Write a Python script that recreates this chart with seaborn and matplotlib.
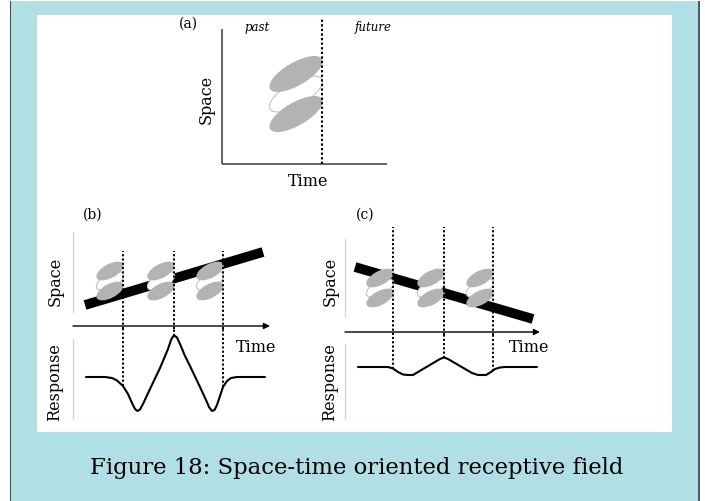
import numpy as np
import pandas as pd
import matplotlib
matplotlib.use("Agg")
import matplotlib.pyplot as plt
from matplotlib.patches import Ellipse, Rectangle
import seaborn as sns

sns.set_theme(style="white")
plt.rcParams["font.family"] = ["DejaVu Serif"]
plt.rcParams["text.color"] = "black"

W, H = 705, 502

# ---------------- data ----------------
# (a) a single space-time oriented receptive field
a_now = 10.0
a_rf_time = 7.4
a_rf_space = [9.0, 7.0, 5.0]          # excitatory / inhibitory / excitatory lobes
a_rf_kind = ["on", "off", "on"]

# (b) bar moving along the preferred orientation
b_bar_time = [1.2, 19.0]
b_bar_space = [2.1, 7.4]
b_probe_time = [5.0, 10.1, 15.0]
b_rf_space = [5.5, 4.5, 3.5]
b_resp_time = [1.3, 3.2, 3.9, 4.4, 5.0, 5.5, 5.9, 6.2, 6.45, 6.7, 7.0, 7.7,
               8.7, 9.5, 9.8, 10.0, 10.2, 10.4, 10.7, 11.2, 11.7, 12.7, 13.3,
               13.6, 13.9, 14.15, 14.4, 14.7, 15.0, 15.4, 15.8, 16.4, 19.2]
b_resp = [0.0, 0.0, -0.1, -0.35, -0.9, -1.7, -2.6, -3.2, -3.4, -3.25, -2.7, -1.2,
          0.9, 2.8, 3.7, 4.05, 4.1, 3.95, 3.3, 2.1, 1.1, -1.0, -2.3,
          -3.0, -3.4, -3.3, -2.8, -1.9, -1.0, -0.4, -0.1, 0.0, 0.0]

# (c) bar moving against the preferred orientation
c_bar_time = [1.0, 18.8]
c_bar_space = [6.5, 1.3]
c_probe_time = [4.8, 9.9, 14.8]
c_rf_space = [5.4, 4.4, 3.4]
c_resp_time = [1.3, 4.3, 4.8, 5.3, 5.8, 6.3, 6.8, 7.3, 9.5, 9.9, 10.3, 12.7,
               13.3, 14.1, 14.6, 15.0, 15.5, 16.0, 19.2]
c_resp = [0.0, 0.0, -0.15, -0.5, -0.75, -0.8, -0.8, -0.5, 0.8, 0.95, 0.8, -0.6,
          -0.8, -0.8, -0.5, -0.2, -0.05, 0.0, 0.0]

caption = "Figure 18: Space-time oriented receptive field"

# ---------------- styles ----------------
GREY_LOBE = "#b3b3b3"
AXIS_DARK = "#3c3c3c"
AXIS_LIGHT = "#d6d6d6"
DOTS = (0, (1.1, 1.1))

fig = plt.figure(figsize=(W / 100, H / 100), dpi=100)
fig.patch.set_facecolor("white")


def fx(x):
    return x / W


def fy(y):
    return 1 - y / H


def rect(x0, y0, x1, y1, color):
    fig.add_artist(Rectangle((fx(x0), fy(y1)), fx(x1) - fx(x0), fy(y0) - fy(y1),
                             transform=fig.transFigure, facecolor=color,
                             edgecolor="none", zorder=0))


# page frame
rect(10, 3, 700, 502, "#b0dfe5")
rect(10, 2, 698, 3.2, "#d9d9d9")
rect(10, 2, 11.3, 502, "#3d4a50")
rect(697.8, 2, 699.6, 502, "#4a5a62")
rect(37, 16, 672, 433, "white")


def canvas(x0, y0, x1, y1, ox, oy):
    """Axes on a pixel box; one data unit = 10 px, origin at (ox, oy)."""
    ax = fig.add_axes([fx(x0), fy(y1), fx(x1) - fx(x0), fy(y0) - fy(y1)])
    ax.set_xlim((x0 - ox) / 10, (x1 - ox) / 10)
    ax.set_ylim((oy - y1) / 10, (oy - y0) / 10)
    ax.axis("off")
    ax.patch.set_alpha(0)
    return ax


def receptive_field(ax, t, spaces, kinds, w, h, ang):
    for s, k in zip(spaces, kinds):
        if k == "off":
            ax.add_patch(Ellipse((t, s), w, h, angle=ang, facecolor="white",
                                 edgecolor="#c4c4c4", lw=0.8, zorder=3))
    for s, k in zip(spaces, kinds):
        if k == "on":
            ax.add_patch(Ellipse((t, s), w, h, angle=ang, facecolor=GREY_LOBE,
                                 edgecolor="none", zorder=4))


# ---------------- panel (a) ----------------
ax = canvas(212, 15, 395, 170, 222, 165)
ax.plot([0, 0], [0, 13.5], color=AXIS_DARK, lw=1.1, solid_capstyle="butt")
ax.plot([0, 16.5], [0, 0], color=AXIS_DARK, lw=1.1, solid_capstyle="butt")
receptive_field(ax, a_rf_time, a_rf_space, a_rf_kind, 6.0, 2.3, 30)
ax.vlines(a_now, 0, 14.5, colors="black", lw=1.5, linestyles=DOTS, zorder=5)

fig.text(fx(188), fy(24), "(a)", ha="center", va="center", fontsize=10)
fig.text(fx(257), fy(28), "past", ha="center", va="center", fontsize=8.5, style="italic")
fig.text(fx(373), fy(28), "future", ha="center", va="center", fontsize=8.5, style="italic")
fig.text(fx(206), fy(99), "Space", ha="center", va="center", fontsize=11.5, rotation=90)
fig.text(fx(308), fy(182), "Time", ha="center", va="center", fontsize=11.5)


# ---------------- panels (b) and (c) ----------------
def moving_bar_panel(x0, x1, ox, space_box, oy_s, resp_box, oy_r,
                     bar_t, bar_s, probes, rf_space, resp_t, resp,
                     arrow_end, space_line, resp_line, dot_top, rf_shift):
    axs = canvas(x0, space_box[0], x1, space_box[1], ox, oy_s)
    axr = canvas(x0, resp_box[0], x1, resp_box[1], ox, oy_r)

    # faint vertical axes
    axs.plot([0, 0], space_line, color=AXIS_LIGHT, lw=1.0)
    axr.plot([0, 0], resp_line, color=AXIS_LIGHT, lw=1.0)

    # time arrow
    axs.annotate("", xy=(arrow_end, 0), xytext=(0, 0),
                 arrowprops=dict(arrowstyle="-|>", color="black", lw=1.0,
                                 mutation_scale=9, shrinkA=0, shrinkB=0),
                 annotation_clip=False)

    # moving bar
    bar = pd.DataFrame({"t": bar_t, "s": bar_s})
    sns.lineplot(data=bar, x="t", y="s", ax=axs, color="black", lw=7.0,
                 solid_capstyle="butt", zorder=2, legend=False)

    # receptive fields sampled at three moments
    for p in probes:
        receptive_field(axs, p + rf_shift, rf_space, ["on", "off", "on"], 3.0, 1.4, 28)

    # response curve
    rdf = pd.DataFrame({"t": resp_t, "r": resp})
    sns.lineplot(data=rdf, x="t", y="r", ax=axr, color="black", lw=1.5,
                 zorder=3, legend=False)

    # probe lines
    r_top = axr.get_ylim()[1]
    s_bot = axs.get_ylim()[0]
    for p in probes:
        axs.vlines(p, s_bot, dot_top, colors="black", lw=1.4, linestyles=DOTS, zorder=6)
        axr.vlines(p, np.interp(p, resp_t, resp), r_top, colors="black", lw=1.4,
                   linestyles=DOTS, zorder=6)
    for a in (axs, axr):
        a.set_xlabel("")
        a.set_ylabel("")
        a.axis("off")


moving_bar_panel(60, 292, 73, (222, 330), 327, (330, 430), 378,
                 b_bar_time, b_bar_space, b_probe_time, b_rf_space,
                 b_resp_time, b_resp, 19.7, [1.4, 9.4], [3.8, -4.2], 7.5, -1.3)

moving_bar_panel(332, 562, 345, (220, 336), 333, (336, 430), 368,
                 c_bar_time, c_bar_space, c_probe_time, c_rf_space,
                 c_resp_time, c_resp, 19.5, [1.5, 9.3], [2.3, -5.2], 10.5, -1.3)

fig.text(fx(93), fy(215), "(b)", ha="center", va="center", fontsize=10)
fig.text(fx(55), fy(281), "Space", ha="center", va="center", fontsize=11.5, rotation=90)
fig.text(fx(55), fy(382), "Response", ha="center", va="center", fontsize=11.5, rotation=90)
fig.text(fx(256), fy(347), "Time", ha="center", va="center", fontsize=11.5)

fig.text(fx(365), fy(215), "(c)", ha="center", va="center", fontsize=10)
fig.text(fx(330), fy(281), "Space", ha="center", va="center", fontsize=11.5, rotation=90)
fig.text(fx(330), fy(382), "Response", ha="center", va="center", fontsize=11.5, rotation=90)
fig.text(fx(529), fy(347), "Time", ha="center", va="center", fontsize=11.5)

fig.text(fx(356.5), fy(474), caption, ha="center", va="baseline", fontsize=16.4)

fig.savefig("out.png", dpi=100)
